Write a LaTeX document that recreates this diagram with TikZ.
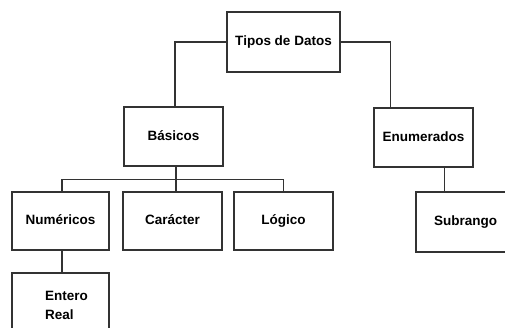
\documentclass[tikz,border=0pt]{standalone}
\usepackage{fontspec}
\setmainfont{Liberation Sans}
\usetikzlibrary{positioning}

\begin{document}
\begin{tikzpicture}[x=1pt,y=-1pt,line width=1.3pt,
  typebox/.style={draw=black!80,minimum width=99pt,minimum height=59pt,
    inner sep=0pt,text height=10pt,text depth=3pt,
    font=\fontsize{13.5}{19}\selectfont\bfseries}]

  \clip (0,0) rectangle (505,327);

  % The root and the first level
  \node[typebox,minimum width=113pt,minimum height=60pt] (tipos) at (283.5,42) {Tipos de Datos};
  \node[typebox] (basicos) at (173.5,136.5) {Básicos};
  \node[typebox] (enum) at (423.5,137.5) {Enumerados};

  % The second level
  \node[typebox,minimum width=97pt,minimum height=58pt] (numer) at (60.5,221) {Numéricos};
  \node[typebox,minimum height=58pt] (caracter) at (172.5,221) {Carácter};
  \node[typebox,minimum height=58pt] (logico) at (283.5,221) {Lógico};
  \node[typebox,minimum height=60pt] (subrango) at (465.5,222) {Subrango};

  % The third level
  \node[typebox,minimum width=97pt,minimum height=64pt,align=left,
    text height=,text depth=] (entero) at (60.5,305)
    {\hspace*{12pt}Entero\\\hspace*{12pt}Real};

  % Connectors
  \draw[black!80] (tipos.west) -| ([xshift=1.5pt]basicos.north);
  \draw[black!80] (tipos.east) -| ([xshift=17pt]enum.north west);
  \draw[black!80] ([xshift=2.5pt]basicos.south) -- ([xshift=3.5pt]caracter.north);
  \draw[black!80] ([xshift=1.5pt]numer.north) -- ++(0,-12) -| (logico.north);
  \coordinate (sub) at ([xshift=29pt]subrango.north west);
  \draw[black!80] (sub) -- (sub |- enum.south);
  \draw[black!80] ([xshift=1.5pt]numer.south) -- ([xshift=1.5pt]entero.north);

\end{tikzpicture}
\end{document}
